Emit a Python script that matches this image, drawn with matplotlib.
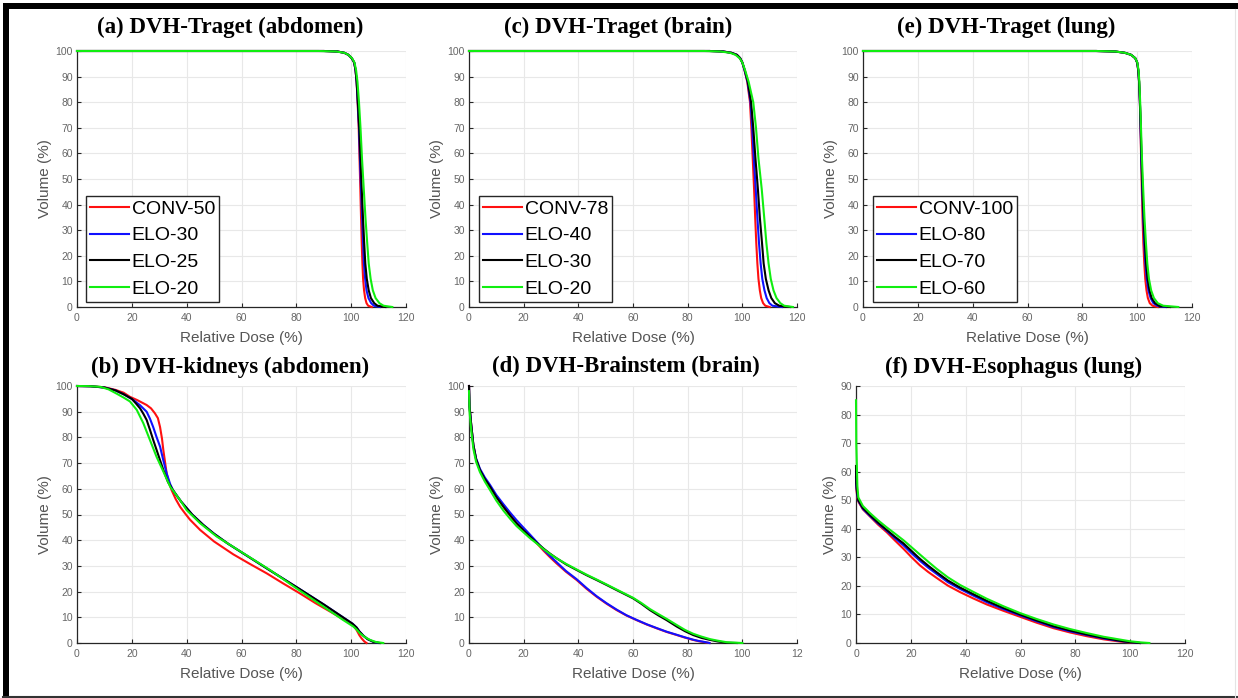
import matplotlib
matplotlib.use("Agg")
import matplotlib.pyplot as plt
from matplotlib.patches import Rectangle
from matplotlib.lines import Line2D

W, H = 1238, 698

# volume levels shared by the target DVH curves (top row)
target_vol = [100, 100, 99.8, 99.3, 98.5, 97.2, 95.5, 92.5, 88, 80, 70, 58, 46, 35, 25, 17,
              11, 6.5, 3.5, 1.5, 0.5, 0]

# ---- (a) target, abdomen ----
a_labels = ["CONV-50", "ELO-30", "ELO-25", "ELO-20"]
a_conv50 = [0, 90, 95, 97.5, 99, 100.2, 101.1, 101.6, 102, 102.35, 102.75, 103.05, 103.35,
            103.6, 103.85, 104.1, 104.35, 104.7, 105.1, 105.6, 106.2, 107.5]
a_elo30 = [0, 90, 95, 97.5, 99, 100.2, 101.1, 101.6, 102, 102.4, 102.85, 103.2, 103.6, 104.0,
           104.35, 104.65, 105.1, 105.6, 106.3, 107.3, 108.3, 110.5]
a_elo25 = [0, 90, 95, 97.5, 99, 100.2, 101.1, 101.6, 102, 102.45, 102.95, 103.4, 103.85, 104.3,
           104.75, 105.15, 105.7, 106.4, 107.2, 108.4, 109.6, 112.5]
a_elo20 = [0, 88, 94.5, 97.5, 99, 100.3, 101.2, 101.8, 102.3, 102.85, 103.4, 103.95, 104.6,
           105.2, 105.85, 106.4, 107.1, 107.9, 108.9, 110.3, 111.8, 115]

# ---- (c) target, brain ----
c_labels = ["CONV-78", "ELO-40", "ELO-30", "ELO-20"]
c_conv78 = [0, 88, 93, 96, 98, 99.2, 100, 100.8, 101.8, 102.8, 103.3, 103.8, 104.3, 104.7,
            105.1, 105.5, 105.9, 106.4, 106.9, 107.6, 108.4, 110]
c_elo40 = [0, 88, 93, 96, 98, 99.2, 100, 100.8, 101.9, 103, 103.6, 104.2, 104.9, 105.5, 106.1,
           106.7, 107.3, 108.1, 108.9, 109.9, 111, 114.5]
c_elo30 = [0, 88, 93, 96, 98, 99.2, 100, 100.9, 102, 103.2, 104, 104.8, 105.7, 106.4, 107.2,
           107.8, 108.6, 109.6, 110.6, 111.9, 113.5, 117.5]
c_elo20 = [0, 86, 92, 95.5, 97.5, 99, 100, 101, 102.3, 104, 105, 105.9, 107.1, 108, 108.8,
           109.6, 110.4, 111.4, 112.5, 113.9, 115.3, 118.5]

# ---- (e) target, lung ----
e_labels = ["CONV-100", "ELO-80", "ELO-70", "ELO-60"]
e_conv100 = [0, 85, 92, 95.5, 97.8, 99.3, 100, 100.4, 100.7, 101, 101.2, 101.45, 101.7, 101.95,
             102.25, 102.6, 102.95, 103.4, 103.9, 104.6, 105.6, 107.5]
e_elo80 = [0, 85, 92, 95.5, 97.8, 99.3, 100, 100.4, 100.7, 101, 101.25, 101.5, 101.85, 102.2,
           102.6, 103, 103.5, 104.1, 104.9, 105.9, 107.3, 110.5]
e_elo70 = [0, 85, 92, 95.5, 97.8, 99.3, 100, 100.4, 100.7, 101, 101.3, 101.6, 101.95, 102.35,
           102.8, 103.25, 103.8, 104.5, 105.3, 106.5, 108, 112]
e_elo60 = [0, 85, 92, 95.5, 97.8, 99.3, 100.05, 100.5, 100.8, 101.1, 101.4, 101.75, 102.2,
           102.65, 103.2, 103.7, 104.3, 105.1, 106.1, 107.5, 109.5, 115]

# ---- (b) kidneys, abdomen ----
b_conv_dose = [0, 5, 10, 14, 17, 19.3, 22, 25.4, 27, 28.4, 29.5, 30.3, 31, 31.5, 32.1, 32.7,
               33.5, 34.5, 36, 37.6, 39.5, 41.2, 44.9, 50, 57, 63, 69.2, 75, 81.3, 87, 93.5,
               97, 99.6, 101, 102, 103, 103.8, 104.8, 105.6]
b_conv_vol = [100, 99.9, 99.5, 98.5, 97.4, 95.8, 94.5, 92.6, 91.3, 89.4, 87.5, 84, 79.5, 75,
              70.5, 66, 62.5, 59.5, 56, 53, 50.3, 48, 44, 39.5, 34.5, 30.8, 27.1, 23.3, 19.3,
              15.5, 11.5, 9.3, 7.7, 6.6, 5, 3, 1.8, 0.6, 0]
b_elo1_dose = [0, 5, 10, 14, 17, 20.5, 23, 25.4, 26.6, 27.8, 29, 30.3, 31.5, 32.7, 34, 35,
               36.5, 38, 40, 42, 46, 50, 55, 60, 70, 80, 90, 97, 100.5, 102, 103, 104.5, 106,
               108, 110]
b_elo1_vol = [100, 99.9, 99.4, 98.3, 96.8, 94.6, 92.5, 90, 87.3, 84, 80.2, 76.4, 71, 66, 61.8,
              59.5, 57.2, 55, 52.5, 50, 46, 42.5, 38.7, 35.3, 28.5, 21.8, 15, 10, 7.5, 6, 4.5,
              2.8, 1.5, 0.5, 0]
b_elo2_dose = [0, 5, 10, 14, 17, 20, 21.5, 23, 24.2, 25.4, 26.6, 27.8, 29.7, 31.5, 33.2, 35,
               36.5, 38, 40, 42, 46, 50, 55, 60, 70, 80, 90, 97, 100.5, 102, 103, 104.5, 106,
               108, 110.5]
b_elo2_vol = [100, 99.9, 99.4, 98.3, 96.8, 95, 93.2, 91.3, 89.2, 86.8, 83, 79, 73, 67.3, 62.6,
              59.5, 57.2, 55, 52.5, 50, 46, 42.5, 38.7, 35.3, 28.5, 21.8, 15, 10, 7.5, 6, 4.5,
              2.8, 1.5, 0.5, 0]
b_elo3_dose = [0, 4, 8.4, 11.5, 14.5, 17, 19.3, 21.8, 24.2, 26.6, 29, 31.5, 34, 37.6, 40, 44.9,
               51, 60.7, 70.4, 80, 90, 97, 100.8, 102, 103.2, 105, 106.9, 109, 111.7]
b_elo3_vol = [100, 99.95, 99.7, 98.7, 97, 95.5, 94, 90.7, 85.5, 79, 72.5, 66.7, 60.8, 55.6,
              51.7, 46.6, 41.4, 34.9, 28.4, 21.3, 14.1, 9, 6.4, 5.2, 3.8, 2.3, 1.2, 0.4, 0]

# ---- (d) brainstem, brain ----
d_low_dose = [0, 0.2, 0.8, 1.6, 2.6, 4, 5.8, 7.7, 10, 12.6, 15, 17.4, 20, 22.3, 24.8, 27.2,
              29.6, 32, 35.5, 39.4, 43, 46.7, 50.3, 54, 57.6, 61.3, 65, 68.7, 72.3, 76, 79,
              82, 84, 85.7, 88]
d_conv_vol = [100, 92, 85, 77, 71.5, 67.3, 63.8, 60.8, 56.8, 53, 49.7, 46.6, 43.8, 41.4, 38.8,
              36, 33.4, 31, 27.7, 24.5, 21.1, 18, 15.3, 12.8, 10.7, 8.9, 7.2, 5.7, 4.3, 3.1,
              2.1, 1.2, 0.7, 0.4, 0]
d_elo1_vol = [100, 92, 85, 77, 71.8, 67.8, 64.4, 61.5, 57.6, 54, 50.8, 47.8, 44.8, 42.2, 39.3,
              36.5, 33.9, 31.5, 28, 24.8, 21.4, 18.2, 15.5, 13, 10.8, 9, 7.3, 5.8, 4.4, 3.2,
              2.2, 1.3, 0.8, 0.5, 0]
d_high_dose = [0, 0.2, 0.8, 1.6, 2.6, 4, 5.8, 7.7, 10, 12.6, 15, 17.4, 20, 22.3, 24.8, 27.2,
               29.6, 32, 35.5, 39.4, 43, 46.7, 50.3, 54, 57, 60, 63, 66.2, 69.2, 72.3, 76, 79,
               82, 85, 88.2, 91, 94.3, 98]
d_elo2_vol = [100, 92, 85, 77, 71.5, 67.3, 63.8, 60.8, 56.8, 53, 49.7, 46.6, 43.8, 41.4, 39,
              36.8, 34.8, 33, 30.6, 28.4, 26.4, 24.5, 22.6, 20.6, 19, 17.4, 15.3, 12.8, 10.8,
              8.9, 6.4, 4.6, 3.1, 2, 1.2, 0.6, 0.1, 0]
d_elo3_dose = [0, 0.2, 0.8, 1.6, 2.6, 4, 5.8, 7.7, 10, 12.6, 15, 17.4, 20, 22.3, 24.8, 27.2,
               29.6, 32, 35.5, 39.4, 43, 46.7, 50.3, 54, 57, 60, 63, 66.2, 69.2, 72.3, 76, 79,
               82, 85, 88.2, 91, 94.3, 100]
d_elo3_vol = [98, 90, 83, 75.5, 70.5, 66.5, 62.8, 59.5, 55.4, 51.5, 48.4, 45.5, 43, 40.8, 38.7,
              36.6, 34.7, 33, 30.8, 28.6, 26.6, 24.7, 22.8, 20.8, 19.2, 17.6, 15.6, 13.2, 11.3,
              9.4, 7, 5.1, 3.6, 2.5, 1.5, 0.9, 0.3, 0]

# ---- (f) esophagus, lung ----
f_dose = [0, 0.1, 0.5, 0.85, 2.5, 5.1, 8, 11.2, 14.2, 17.3, 20.3, 23.3, 26.3, 29.4, 33.5, 38,
          42.8, 47.7, 53.7, 59.8, 65.9, 72, 78, 84.1, 90.2, 96.3, 100, 103.5]
f_conv_vol = [58, 54, 51, 49.5, 46.8, 44.3, 41.5, 38.8, 35.9, 33, 30, 27.2, 24.9, 22.8, 20.1,
              17.8, 15.6, 13.5, 11.3, 9.2, 7.1, 5.2, 3.7, 2.4, 1.3, 0.5, 0.2, 0]
f_elo1_vol = [60, 55, 51.5, 49.8, 47, 44.5, 41.9, 39.3, 36.7, 34.2, 31.4, 28.8, 26.4, 24.2,
              21.3, 18.9, 16.6, 14.3, 11.9, 9.7, 7.6, 5.6, 4.1, 2.8, 1.6, 0.7, 0.3, 0]
f_elo2_vol = [62, 56, 52, 50, 47.3, 44.8, 42.2, 39.6, 37.2, 34.9, 32.2, 29.5, 27.1, 24.8, 21.9,
              19.4, 17.1, 14.8, 12.3, 10, 7.9, 5.9, 4.4, 3, 1.8, 0.8, 0.3, 0]
f_elo3_dose = [0, 0.1, 0.5, 0.85, 2.5, 5.1, 8, 11.2, 14.2, 17.3, 20.3, 23.3, 26.3, 29.4, 33.5,
               38, 42.8, 47.7, 53.7, 59.8, 65.9, 72, 78, 84.1, 90.2, 96.3, 100, 104, 107]
f_elo3_vol = [85, 70, 55, 51, 48, 45.5, 43, 40.5, 38.3, 36, 33.5, 31, 28.5, 26, 23, 20.3, 17.9,
              15.5, 12.9, 10.5, 8.4, 6.5, 4.9, 3.5, 2.2, 1.2, 0.6, 0.2, 0]

titles = ["(a) DVH-Traget (abdomen)", "(c) DVH-Traget (brain)", "(e) DVH-Traget (lung)",
          "(b) DVH-kidneys (abdomen)", "(d) DVH-Brainstem (brain)", "(f) DVH-Esophagus (lung)"]

COLORS = ["#ff1010", "#1010ff", "#000000", "#10ee10"]
GRAY = "#555555"
SANS = "Liberation Sans"


def px_box(x0, y_top, x1, y_bot):
    return [x0 / W, 1 - y_bot / H, (x1 - x0) / W, (y_bot - y_top) / H]


def style(ax, ymax, title, title_dx, title_dy, xticklabels=None):
    ax.set_xlim(0, 120)
    ax.set_ylim(0, ymax)
    ax.set_xticks(range(0, 121, 20))
    if xticklabels:
        ax.set_xticklabels(xticklabels)
    ax.set_yticks(range(0, ymax + 1, 10))
    ax.grid(True, color="#e8e8e8", linewidth=0.8)
    ax.set_axisbelow(True)
    for s in ["top", "right"]:
        ax.spines[s].set_visible(False)
    for s in ["left", "bottom"]:
        ax.spines[s].set_color("#262626")
        ax.spines[s].set_linewidth(0.9)
    ax.tick_params(direction="in", length=3, width=0.8, color="#262626",
                   labelsize=7.5, labelcolor="#666666")
    ax.tick_params(axis="x", pad=4.5)
    ax.tick_params(axis="y", pad=3)
    for lab in ax.get_xticklabels() + ax.get_yticklabels():
        lab.set_family(SANS)
    ax.set_xlabel("Relative Dose (%)", fontsize=11, color=GRAY, family=SANS, labelpad=5.5)
    ax.set_ylabel("Volume (%)", fontsize=11, color=GRAY, family=SANS, labelpad=2.5)
    ax.text(0.5 + title_dx, 1.0 + title_dy, title, transform=ax.transAxes, ha="center",
            va="bottom", fontsize=16.5, fontweight="bold", family="Liberation Serif")


def add_legend(ax, dx):
    leg = ax.legend(loc="lower left", bbox_to_anchor=(dx, 0.02), borderaxespad=0,
                    prop={"family": SANS, "size": 14}, fancybox=False, framealpha=1,
                    edgecolor="#262626", borderpad=0.2, labelspacing=0.47,
                    handlelength=2.0, handletextpad=0.15)
    leg.get_frame().set_linewidth(1.0)


def curve(ax, x, y, col, label=None):
    ax.plot(x, y, color=col, lw=1.5, label=label, zorder=3, clip_on=False)


fig = plt.figure(figsize=(W / 100, H / 100), dpi=100)

ax_a = fig.add_axes(px_box(77, 51, 406, 307))
ax_c = fig.add_axes(px_box(469, 51, 797, 307))
ax_e = fig.add_axes(px_box(863, 51, 1192, 307))
ax_b = fig.add_axes(px_box(77, 386, 406, 643))
ax_d = fig.add_axes(px_box(469, 386, 797, 643))
ax_f = fig.add_axes(px_box(856, 386, 1185, 643))

for ax, doses, labels in [
    (ax_a, [a_conv50, a_elo30, a_elo25, a_elo20], a_labels),
    (ax_c, [c_conv78, c_elo40, c_elo30, c_elo20], c_labels),
    (ax_e, [e_conv100, e_elo80, e_elo70, e_elo60], e_labels),
]:
    for d, col, lab in zip(doses, COLORS, labels):
        curve(ax, d, target_vol, col, lab)

curve(ax_b, b_conv_dose, b_conv_vol, COLORS[0])
curve(ax_b, b_elo1_dose, b_elo1_vol, COLORS[1])
curve(ax_b, b_elo2_dose, b_elo2_vol, COLORS[2])
curve(ax_b, b_elo3_dose, b_elo3_vol, COLORS[3])

curve(ax_d, d_low_dose, d_conv_vol, COLORS[0])
curve(ax_d, d_low_dose, d_elo1_vol, COLORS[1])
curve(ax_d, d_high_dose, d_elo2_vol, COLORS[2])
curve(ax_d, d_elo3_dose, d_elo3_vol, COLORS[3])

curve(ax_f, f_dose, f_conv_vol, COLORS[0])
curve(ax_f, f_dose, f_elo1_vol, COLORS[1])
curve(ax_f, f_dose, f_elo2_vol, COLORS[2])
curve(ax_f, f_elo3_dose, f_elo3_vol, COLORS[3])

style(ax_a, 100, titles[0], -11 / 329, 0.052)
style(ax_c, 100, titles[1], -15 / 328, 0.052)
style(ax_e, 100, titles[2], -21 / 329, 0.052)
style(ax_b, 100, titles[3], -11 / 329, 0.033)
style(ax_d, 100, titles[4], -7 / 328, 0.033, ["0", "20", "40", "60", "80", "100", "12"])
style(ax_f, 90, titles[5], -7 / 329, 0.033)

add_legend(ax_a, 9 / 329)
add_legend(ax_c, 10 / 328)
add_legend(ax_e, 10 / 329)

# outer frame of the figure
fig.add_artist(Rectangle((3 / W, 1 - 697 / H), 6 / W, 694 / H, transform=fig.transFigure,
                         color="black", lw=0))
fig.add_artist(Rectangle((3 / W, 1 - 9 / H), 1235 / W, 6 / H, transform=fig.transFigure,
                         color="black", lw=0))
fig.add_artist(Line2D([3 / W, 1], [1 - 697 / H] * 2, transform=fig.transFigure,
                      color="#333333", lw=1.5))
fig.add_artist(Line2D([1234.5 / W] * 2, [1 - 9 / H, 1 - 697 / H], transform=fig.transFigure,
                      color="#e4e4e4", lw=0.8))

fig.savefig("out.png", dpi=100)
